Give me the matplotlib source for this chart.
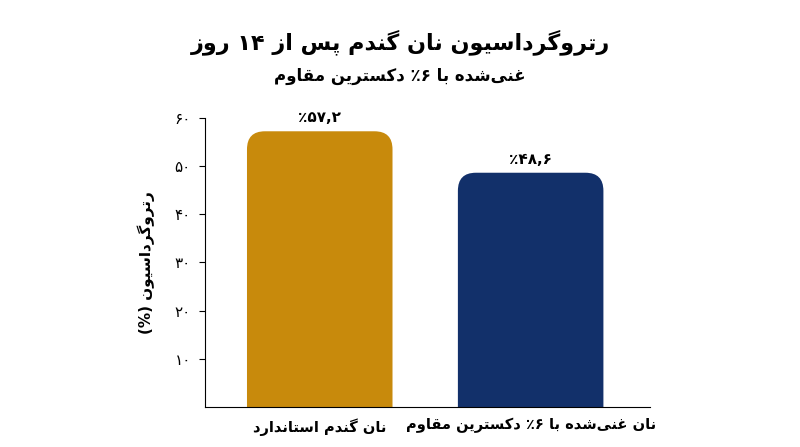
import matplotlib
matplotlib.use("Agg")
import matplotlib.pyplot as plt
from matplotlib.patches import FancyBboxPatch

categories = ["نان گندم استاندارد", "نان غنی‌شده با ۶٪ دکسترین مقاوم"]
values = [57.2, 48.6]
value_labels = ["۵۷,۲٪", "۴۸,۶٪"]
yticks = [10, 20, 30, 40, 50, 60]
ytick_labels = ["۱۰", "۲۰", "۳۰", "۴۰", "۵۰", "۶۰"]
title = "رتروگرداسیون نان گندم پس از ۱۴ روز"
subtitle = "غنی‌شده با ۶٪ دکسترین مقاوم"
ylabel = "رتروگرداسیون (%)"
colors = ["#C88A0C", "#12306A"]

# --- minimal Persian shaping ---
DUAL = {'ب':0xFE8F,'ت':0xFE95,'ث':0xFE99,'ج':0xFE9D,'ح':0xFEA1,'خ':0xFEA5,
        'س':0xFEB1,'ش':0xFEB5,'ص':0xFEB9,'ض':0xFEBD,'ط':0xFEC1,'ظ':0xFEC5,
        'ع':0xFEC9,'غ':0xFECD,'ف':0xFED1,'ق':0xFED5,'ک':0xFB8E,'گ':0xFB92,
        'ل':0xFEDD,'م':0xFEE1,'ن':0xFEE5,'ه':0xFEE9,'ی':0xFBFC,'پ':0xFB56,'چ':0xFB7A}
RIGHT = {'ا':0xFE8D,'آ':0xFE81,'د':0xFEA9,'ذ':0xFEAB,'ر':0xFEAD,'ز':0xFEAF,
         'و':0xFEED,'ژ':0xFB8A}
def shape(s):
    out = []
    n = len(s)
    for i, c in enumerate(s):
        if c not in DUAL and c not in RIGHT:
            if c != '\u200c':
                out.append(c)
            continue
        prev = s[i-1] if i > 0 else ''
        nxt = s[i+1] if i < n-1 else ''
        jp = prev in DUAL
        jn = (c in DUAL) and (nxt in DUAL or nxt in RIGHT)
        if c in RIGHT:
            out.append(chr(RIGHT[c] + (1 if jp else 0)))
        else:
            b = DUAL[c]
            if jp and jn: out.append(chr(b+3))
            elif jp: out.append(chr(b+1))
            elif jn: out.append(chr(b+2))
            else: out.append(chr(b))
    s2 = ''.join(out)
    runs = []
    for ch in s2:
        isd = ('\u06f0' <= ch <= '\u06f9') or ch.isdigit() or ch == ','
        if runs and runs[-1][0] == isd:
            runs[-1][1].append(ch)
        else:
            runs.append([isd, [ch]])
    res = []
    mirror = {'(': ')', ')': '('}
    for isd, chs in reversed(runs):
        if isd:
            res.append(''.join(chs))
        else:
            res.append(''.join(mirror.get(c, c) for c in reversed(chs)))
    return ''.join(res)

plt.rcParams['font.family'] = ['DejaVu Sans']
fig = plt.figure(figsize=(8, 4.47), dpi=100)
ax = fig.add_axes([0.256, 0.0895, 0.556, 0.647])
x = list(range(len(categories)))
w = 0.69
for xi, v, c, lab in zip(x, values, colors, value_labels):
    p = FancyBboxPatch((xi - w/2, -10), w, v + 10,
                       boxstyle="round,pad=0,rounding_size=0.085",
                       mutation_aspect=44, fc=c, ec='none', clip_on=True)
    ax.add_patch(p)
    ax.text(xi, v + 1.2, shape(lab), ha='center', va='bottom', fontsize=11, fontweight='bold')
ax.set_xlim(-0.545, 1.564)
ax.set_ylim(0, 60)
ax.set_yticks(yticks)
ax.set_yticklabels([shape(t) for t in ytick_labels], fontsize=11)
ax.set_xticks(x)
ax.set_xticklabels([shape(c) for c in categories], fontsize=10.5, fontweight='bold')
ax.tick_params(axis='x', length=0, pad=8)
ax.tick_params(axis='y', length=4, pad=6)
for s in ['top', 'right']:
    ax.spines[s].set_visible(False)
ax.set_ylabel(shape(ylabel), fontsize=11, fontweight='bold', labelpad=14)
fig.text(0.5, 0.89, shape(title), ha='center', fontsize=16, fontweight='bold')
fig.text(0.5, 0.82, shape(subtitle), ha='center', fontsize=12, fontweight='bold')
fig.savefig("out.png", dpi=100)
